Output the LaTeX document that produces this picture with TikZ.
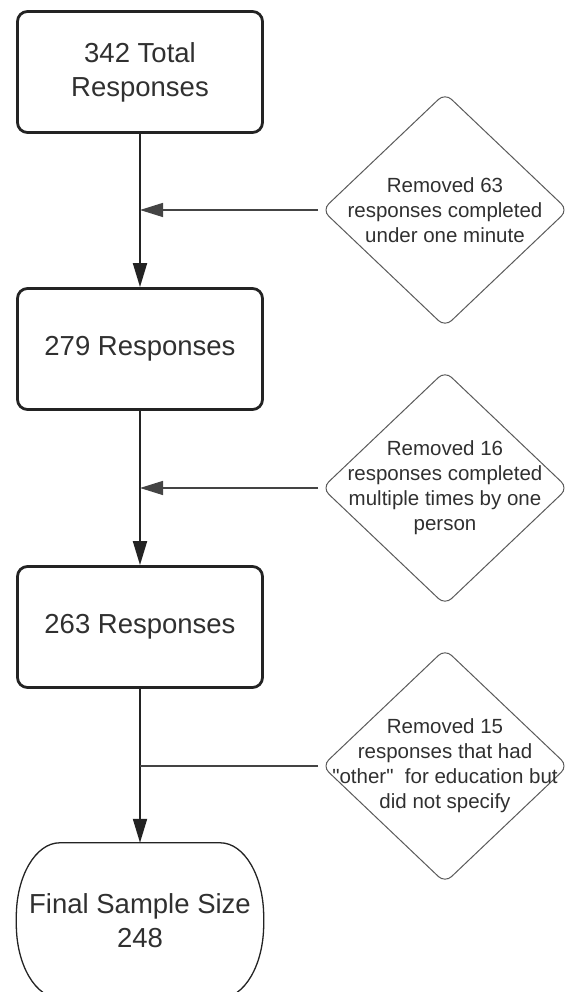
\documentclass[tikz,border=0pt]{standalone}
\usepackage{fontspec}
\setmainfont{Liberation Sans}
\newfontfamily\rawsans{Liberation Sans}
\usetikzlibrary{arrows.meta,shapes.geometric}
\definecolor{ink}{HTML}{232323}
\definecolor{txt}{HTML}{303030}
\definecolor{diaedge}{HTML}{5A5A5A}
\newcommand{\sq}{{\rawsans"}}
\begin{document}
\begin{tikzpicture}[x=1pt,y=1pt,
  box/.style={draw=ink, line width=2.8pt, rounded corners=10pt, minimum width=245pt, minimum height=121pt, inner sep=0pt, font=\fontsize{27.5}{34}\selectfont, text=txt, align=center},
  dshape/.style={draw=diaedge, line width=1pt, shape=diamond, minimum width=246pt, minimum height=234pt, inner sep=0pt, rounded corners=9pt},
  dtext/.style={font=\fontsize{20.5}{25}\selectfont, text=txt, align=center, inner sep=0pt},
  vconn/.style={draw=ink, line width=2pt, -{Triangle[length=24pt,width=14pt]}},
  hconn/.style={draw=ink!85, line width=1.3pt, shorten <=3.5pt},
  harrow/.style={hconn, -{Triangle[length=23pt,width=14pt]}},
  termtext/.style={inner sep=0pt, minimum width=247pt, minimum height=155pt, font=\fontsize{27.5}{34}\selectfont, text=txt, align=center},
  termedge/.style={draw=ink, line width=1.3pt}
]
\useasboundingbox (0,0) rectangle (569,992);

% main boxes
\node[box] (b1) at (140,920) {342 Total\\Responses};
\node[box] (b2) at (140,643) {279 Responses};
\node[box] (b3) at (140,365) {263 Responses};
\node[termtext] (f) at (140,71.5) {Final Sample Size\\248};
\draw[termedge] ([xshift=43.5pt]f.north west) -- ([xshift=-43.5pt]f.north east)
  arc[start angle=90, end angle=0, x radius=43.5pt, y radius=74pt]
  -- ([yshift=74pt]f.south east)
  arc[start angle=0, end angle=-90, x radius=43.5pt, y radius=74pt]
  -- ([xshift=43.5pt]f.south west)
  arc[start angle=270, end angle=180, x radius=43.5pt, y radius=74pt]
  -- ([yshift=-74pt]f.north west)
  arc[start angle=180, end angle=90, x radius=43.5pt, y radius=74pt]
  -- cycle;

% diamonds
\node[dshape] (d1) at (445,782) {};
\node[dtext] (d1t) at (d1.center) {Removed 63\\responses completed\\under one minute};
\node[dshape] (d2) at (445,504) {};
\node[dtext] (d2t) at (d2.center) {Removed 16\\responses completed\\multiple times by one\\person};
\node[dshape] (d3) at (445,226) {};
\node[dtext] (d3t) at (d3.center) {Removed 15\\responses that had\\\sq other\sq\ \ for education but\\did not specify};

% junctions on the main flow line
\coordinate (j1) at (b1.south |- d1.west);
\coordinate (j2) at (b2.south |- d2.west);
\coordinate (j3) at (b3.south |- d3.west);

% connectors
\draw[vconn] (b1) -- (b2);
\draw[vconn] (b2) -- (b3);
\draw[vconn] (b3) -- (f);
\draw[harrow] (d1.west) -- (j1);
\draw[harrow] (d2.west) -- (j2);
\draw[hconn] (d3.west) -- (j3);
\end{tikzpicture}
\end{document}
